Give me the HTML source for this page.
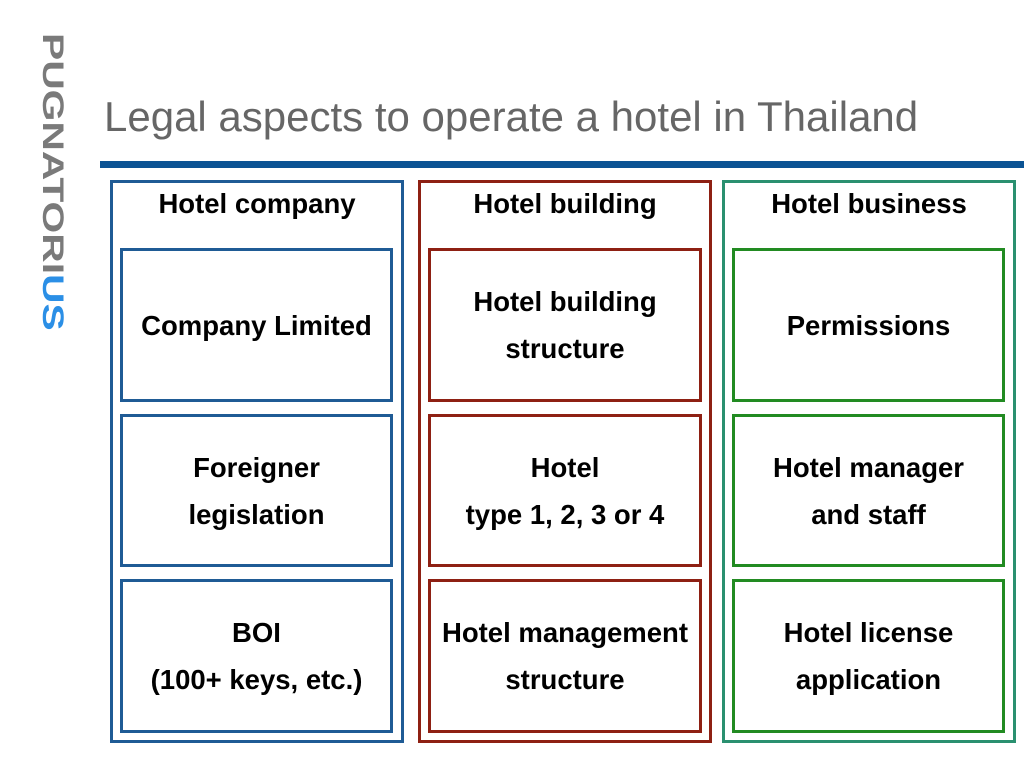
<!DOCTYPE html>
<html><head><meta charset="utf-8"><style>
html,body{margin:0;padding:0;background:#fff;}
body{width:1024px;height:768px;position:relative;overflow:hidden;font-family:"Liberation Sans",Arial,Helvetica,sans-serif;}
.logo{position:absolute;left:36px;top:33px;writing-mode:vertical-rl;font-weight:bold;font-size:30px;color:#7a7a7a;letter-spacing:0;line-height:32px;transform:scaleY(1.36);transform-origin:top left;}
.logo span{color:#2b8fe6;}
.title{position:absolute;left:104px;top:93px;font-size:42px;color:#666;white-space:nowrap;}
.bar{position:absolute;left:100px;top:161px;width:924px;height:7px;background:#0b5394;}
.box{position:absolute;box-sizing:border-box;border:3px solid;}
.t{position:absolute;display:flex;align-items:center;justify-content:center;text-align:center;font-weight:bold;font-size:27.5px;line-height:47px;color:#000;white-space:nowrap;}
</style></head><body>
<div class="logo">PUGNATORI<span>US</span></div>
<div class="title">Legal aspects to operate a hotel in Thailand</div>
<div class="bar"></div>

<div class="box" style="left:110px;top:180px;width:294px;height:563px;border-color:#1f5b95"></div>
<div class="box" style="left:418px;top:180px;width:294px;height:563px;border-color:#8e2013"></div>
<div class="box" style="left:722px;top:180px;width:294px;height:563px;border-color:#2a9070"></div>

<div class="t" style="left:110px;top:180px;width:294px;height:46px">Hotel company</div>
<div class="t" style="left:418px;top:180px;width:294px;height:46px">Hotel building</div>
<div class="t" style="left:722px;top:180px;width:294px;height:46px">Hotel business</div>

<div class="box" style="left:120px;top:248px;width:273px;height:154px;border-color:#1f5b95"></div>
<div class="box" style="left:120px;top:414px;width:273px;height:153px;border-color:#1f5b95"></div>
<div class="box" style="left:120px;top:579px;width:273px;height:154px;border-color:#1f5b95"></div>
<div class="box" style="left:428px;top:248px;width:274px;height:154px;border-color:#8e2013"></div>
<div class="box" style="left:428px;top:414px;width:274px;height:153px;border-color:#8e2013"></div>
<div class="box" style="left:428px;top:579px;width:274px;height:154px;border-color:#8e2013"></div>
<div class="box" style="left:732px;top:248px;width:273px;height:154px;border-color:#228b22"></div>
<div class="box" style="left:732px;top:414px;width:273px;height:153px;border-color:#228b22"></div>
<div class="box" style="left:732px;top:579px;width:273px;height:154px;border-color:#228b22"></div>

<div class="t" style="left:120px;top:248px;width:273px;height:154px">Company Limited</div>
<div class="t" style="left:120px;top:414px;width:273px;height:153px">Foreigner<br>legislation</div>
<div class="t" style="left:120px;top:579px;width:273px;height:154px">BOI<br>(100+ keys, etc.)</div>
<div class="t" style="left:428px;top:248px;width:274px;height:154px">Hotel building<br>structure</div>
<div class="t" style="left:428px;top:414px;width:274px;height:153px">Hotel<br>type 1, 2, 3 or 4</div>
<div class="t" style="left:428px;top:579px;width:274px;height:154px">Hotel management<br>structure</div>
<div class="t" style="left:732px;top:248px;width:273px;height:154px">Permissions</div>
<div class="t" style="left:732px;top:414px;width:273px;height:153px">Hotel manager<br>and staff</div>
<div class="t" style="left:732px;top:579px;width:273px;height:154px">Hotel license<br>application</div>
</body></html>
